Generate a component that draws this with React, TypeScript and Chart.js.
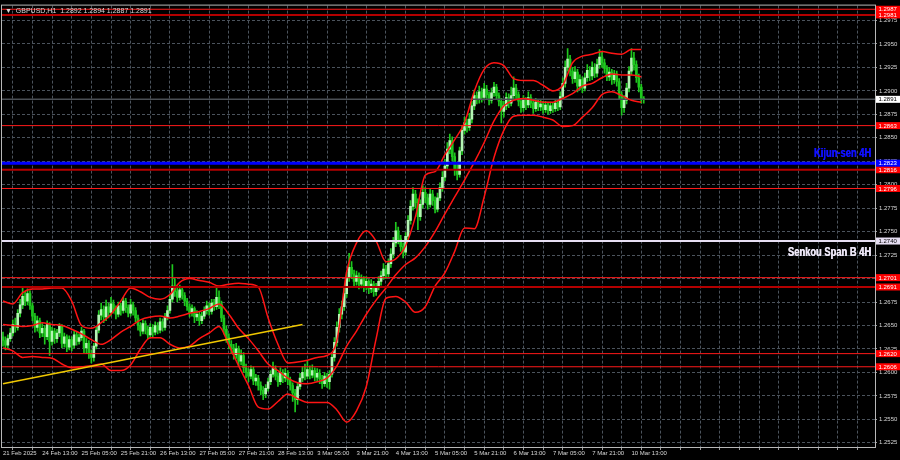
import React, { useEffect, useRef } from "react";
import { Chart, registerables } from "chart.js";

Chart.register(...registerables);

// ---------------- data ----------------
const symbolName = "GBPUSD,H1";

const timeLabels = [
  "21 Feb 2025", "24 Feb 13:00", "25 Feb 05:00", "25 Feb 21:00", "26 Feb 13:00",
  "27 Feb 05:00", "27 Feb 21:00", "28 Feb 13:00", "3 Mar 05:00", "3 Mar 21:00",
  "4 Mar 13:00", "5 Mar 05:00", "5 Mar 21:00", "6 Mar 13:00", "7 Mar 05:00",
  "7 Mar 21:00", "10 Mar 13:00",
];

const yTickValues = [
  1.2525, 1.255, 1.2575, 1.26, 1.2625, 1.265, 1.2675, 1.27, 1.2725, 1.275,
  1.2775, 1.28, 1.2825, 1.285, 1.2875, 1.29, 1.2925, 1.295, 1.2975,
];

const opens = [
  1.2638,1.2634,1.2629,1.2636,1.2642,1.2651,1.2648,1.2663,1.2672,1.2681,
  1.2676,1.2684,1.2671,1.2660,1.2648,1.2655,1.2642,1.2647,1.2638,1.2651,
  1.2633,1.2644,1.2636,1.2642,1.2649,1.2631,1.2638,1.2627,1.2635,1.2629,
  1.2640,1.2633,1.2637,1.2644,1.2626,1.2631,1.2620,1.2616,1.2628,1.2645,
  1.2661,1.2667,1.2659,1.2670,1.2664,1.2673,1.2668,1.2662,1.2671,1.2666,
  1.2676,1.2669,1.2663,1.2672,1.2666,1.2658,1.2650,1.2644,1.2652,1.2646,
  1.2640,1.2648,1.2643,1.2650,1.2645,1.2654,1.2648,1.2659,1.2666,1.2678,
  1.2692,1.2686,1.2680,1.2688,1.2682,1.2676,1.2670,1.2664,1.2668,1.2659,
  1.2662,1.2655,1.2660,1.2666,1.2671,1.2665,1.2674,1.2670,1.2680,1.2673,
  1.2658,1.2646,1.2637,1.2630,1.2626,1.2619,1.2625,1.2612,1.2618,1.2605,
  1.2600,1.2596,1.2603,1.2591,1.2594,1.2586,1.2581,1.2577,1.2583,1.2590,
  1.2598,1.2604,1.2596,1.2590,1.2600,1.2594,1.2599,1.2592,1.2586,1.2578,
  1.2571,1.2585,1.2594,1.2600,1.2596,1.2603,1.2597,1.2602,1.2595,1.2599,
  1.2593,1.2588,1.2596,1.2590,1.2598,1.2616,1.2632,1.2648,1.2662,1.2670,
  1.2684,1.2701,1.2712,1.2705,1.2697,1.2703,1.2694,1.2699,1.2692,1.2697,
  1.2689,1.2694,1.2686,1.2691,1.2697,1.2703,1.2710,1.2705,1.2716,1.2726,
  1.2738,1.2751,1.2742,1.2734,1.2728,1.2745,1.2762,1.2777,1.2790,1.2781,
  1.2766,1.2779,1.2792,1.2786,1.2779,1.2790,1.2783,1.2774,1.2786,1.2797,
  1.2808,1.2820,1.2838,1.2847,1.2830,1.2816,1.2811,1.2836,1.2858,1.2866,
  1.2861,1.2870,1.2884,1.2895,1.2891,1.2899,1.2893,1.2902,1.2896,1.2890,
  1.2898,1.2904,1.2895,1.2889,1.2878,1.2884,1.2893,1.2887,1.2895,1.2903,
  1.2896,1.2889,1.2882,1.2890,1.2885,1.2893,1.2887,1.2881,1.2888,1.2883,
  1.2886,1.2880,1.2885,1.2879,1.2884,1.2881,1.2887,1.2883,1.2894,1.2908,
  1.2925,1.2934,1.2921,1.2913,1.2920,1.2905,1.2912,1.2903,1.2914,1.2922,
  1.2916,1.2925,1.2919,1.2928,1.2936,1.2930,1.2924,1.2915,1.2920,1.2912,
  1.2918,1.2910,1.2896,1.2882,1.2890,1.2903,1.2921,1.2935,1.2928,1.2914,
  1.2904,1.2892,
];

const highs = [
  1.2643,1.2638,1.2640,1.2647,1.2656,1.2658,1.2667,1.2678,1.2690,1.2686,
  1.2689,1.2687,1.2674,1.2663,1.2660,1.2658,1.2652,1.2650,1.2655,1.2653,
  1.2648,1.2647,1.2646,1.2652,1.2651,1.2642,1.2640,1.2639,1.2638,1.2644,
  1.2643,1.2641,1.2648,1.2646,1.2636,1.2634,1.2624,1.2631,1.2649,1.2666,
  1.2674,1.2671,1.2677,1.2674,1.2680,1.2677,1.2671,1.2675,1.2674,1.2680,
  1.2679,1.2672,1.2678,1.2675,1.2669,1.2661,1.2653,1.2656,1.2655,1.2649,
  1.2652,1.2651,1.2654,1.2653,1.2658,1.2657,1.2663,1.2671,1.2683,1.2715,
  1.2700,1.2690,1.2693,1.2691,1.2685,1.2679,1.2673,1.2672,1.2670,1.2666,
  1.2665,1.2664,1.2670,1.2676,1.2674,1.2678,1.2678,1.2690,1.2687,1.2676,
  1.2661,1.2650,1.2641,1.2634,1.2630,1.2631,1.2628,1.2624,1.2621,1.2609,
  1.2604,1.2607,1.2606,1.2598,1.2597,1.2590,1.2585,1.2587,1.2594,1.2602,
  1.2611,1.2607,1.2599,1.2605,1.2603,1.2604,1.2602,1.2595,1.2589,1.2582,
  1.2589,1.2599,1.2606,1.2609,1.2612,1.2607,1.2608,1.2605,1.2604,1.2603,
  1.2597,1.2600,1.2599,1.2602,1.2620,1.2637,1.2654,1.2668,1.2676,1.2690,
  1.2707,1.2727,1.2718,1.2709,1.2708,1.2706,1.2704,1.2702,1.2702,1.2699,
  1.2699,1.2697,1.2695,1.2702,1.2708,1.2716,1.2714,1.2721,1.2732,1.2744,
  1.2760,1.2755,1.2746,1.2738,1.2749,1.2767,1.2783,1.2797,1.2794,1.2785,
  1.2784,1.2799,1.2797,1.2790,1.2795,1.2794,1.2787,1.2791,1.2802,1.2814,
  1.2827,1.2845,1.2854,1.2851,1.2834,1.2822,1.2840,1.2863,1.2872,1.2870,
  1.2876,1.2889,1.2901,1.2899,1.2905,1.2903,1.2908,1.2906,1.2899,1.2903,
  1.2909,1.2907,1.2898,1.2892,1.2889,1.2898,1.2897,1.2904,1.2915,1.2907,
  1.2899,1.2892,1.2895,1.2893,1.2899,1.2896,1.2890,1.2892,1.2891,1.2890,
  1.2889,1.2889,1.2888,1.2888,1.2887,1.2891,1.2890,1.2899,1.2914,1.2932,
  1.2945,1.2938,1.2925,1.2926,1.2923,1.2917,1.2915,1.2919,1.2928,1.2926,
  1.2931,1.2929,1.2934,1.2944,1.2941,1.2934,1.2927,1.2925,1.2923,1.2922,
  1.2921,1.2913,1.2899,1.2895,1.2908,1.2926,1.2945,1.2941,1.2932,1.2918,
  1.2907,1.2894,
];

const lows = [
  1.2628,1.2624,1.2626,1.2633,1.2639,1.2643,1.2645,1.2659,1.2668,1.2671,
  1.2672,1.2667,1.2655,1.2643,1.2644,1.2637,1.2638,1.2630,1.2635,1.2618,
  1.2629,1.2631,1.2632,1.2638,1.2626,1.2627,1.2622,1.2624,1.2623,1.2626,
  1.2629,1.2630,1.2634,1.2621,1.2620,1.2615,1.2610,1.2612,1.2625,1.2642,
  1.2656,1.2653,1.2655,1.2658,1.2660,1.2663,1.2657,1.2659,1.2661,1.2663,
  1.2664,1.2659,1.2660,1.2661,1.2654,1.2645,1.2639,1.2641,1.2641,1.2636,
  1.2637,1.2638,1.2640,1.2641,1.2642,1.2644,1.2645,1.2656,1.2663,1.2675,
  1.2681,1.2675,1.2677,1.2678,1.2671,1.2666,1.2659,1.2660,1.2653,1.2655,
  1.2650,1.2652,1.2657,1.2662,1.2661,1.2662,1.2666,1.2667,1.2668,1.2654,
  1.2641,1.2632,1.2625,1.2620,1.2614,1.2615,1.2606,1.2608,1.2600,1.2594,
  1.2590,1.2593,1.2587,1.2586,1.2581,1.2576,1.2571,1.2573,1.2580,1.2587,
  1.2595,1.2592,1.2585,1.2587,1.2589,1.2590,1.2587,1.2581,1.2569,1.2558,
  1.2566,1.2582,1.2590,1.2592,1.2593,1.2593,1.2594,1.2591,1.2590,1.2588,
  1.2583,1.2585,1.2584,1.2582,1.2595,1.2612,1.2628,1.2643,1.2657,1.2666,
  1.2680,1.2697,1.2700,1.2692,1.2693,1.2689,1.2690,1.2686,1.2688,1.2684,
  1.2685,1.2681,1.2682,1.2688,1.2693,1.2699,1.2700,1.2702,1.2712,1.2722,
  1.2734,1.2737,1.2729,1.2722,1.2725,1.2741,1.2758,1.2773,1.2775,1.2752,
  1.2762,1.2775,1.2781,1.2774,1.2776,1.2778,1.2770,1.2771,1.2783,1.2793,
  1.2804,1.2816,1.2833,1.2825,1.2810,1.2805,1.2808,1.2832,1.2854,1.2856,
  1.2858,1.2866,1.2880,1.2886,1.2887,1.2888,1.2890,1.2892,1.2885,1.2887,
  1.2894,1.2891,1.2884,1.2866,1.2872,1.2880,1.2882,1.2884,1.2891,1.2891,
  1.2884,1.2877,1.2878,1.2880,1.2882,1.2882,1.2876,1.2878,1.2879,1.2879,
  1.2876,1.2877,1.2875,1.2876,1.2877,1.2878,1.2879,1.2880,1.2891,1.2904,
  1.2921,1.2916,1.2908,1.2909,1.2899,1.2901,1.2898,1.2900,1.2910,1.2911,
  1.2912,1.2914,1.2915,1.2924,1.2925,1.2919,1.2911,1.2911,1.2907,1.2908,
  1.2905,1.2891,1.2874,1.2877,1.2886,1.2899,1.2917,1.2922,1.2909,1.2899,
  1.2887,1.2887,
];

const closes = [
  1.2634,1.2629,1.2636,1.2642,1.2651,1.2648,1.2663,1.2672,1.2681,1.2676,
  1.2684,1.2671,1.2660,1.2648,1.2655,1.2642,1.2647,1.2638,1.2651,1.2633,
  1.2644,1.2636,1.2642,1.2649,1.2631,1.2638,1.2627,1.2635,1.2629,1.2640,
  1.2633,1.2637,1.2644,1.2626,1.2631,1.2620,1.2616,1.2628,1.2645,1.2661,
  1.2667,1.2659,1.2670,1.2664,1.2673,1.2668,1.2662,1.2671,1.2666,1.2676,
  1.2669,1.2663,1.2672,1.2666,1.2658,1.2650,1.2644,1.2652,1.2646,1.2640,
  1.2648,1.2643,1.2650,1.2645,1.2654,1.2648,1.2659,1.2666,1.2678,1.2692,
  1.2686,1.2680,1.2688,1.2682,1.2676,1.2670,1.2664,1.2668,1.2659,1.2662,
  1.2655,1.2660,1.2666,1.2671,1.2665,1.2674,1.2670,1.2680,1.2673,1.2658,
  1.2646,1.2637,1.2630,1.2626,1.2619,1.2625,1.2612,1.2618,1.2605,1.2600,
  1.2596,1.2603,1.2591,1.2594,1.2586,1.2581,1.2577,1.2583,1.2590,1.2598,
  1.2604,1.2596,1.2590,1.2600,1.2594,1.2599,1.2592,1.2586,1.2578,1.2571,
  1.2585,1.2594,1.2600,1.2596,1.2603,1.2597,1.2602,1.2595,1.2599,1.2593,
  1.2588,1.2596,1.2590,1.2598,1.2616,1.2632,1.2648,1.2662,1.2670,1.2684,
  1.2701,1.2712,1.2705,1.2697,1.2703,1.2694,1.2699,1.2692,1.2697,1.2689,
  1.2694,1.2686,1.2691,1.2697,1.2703,1.2710,1.2705,1.2716,1.2726,1.2738,
  1.2751,1.2742,1.2734,1.2728,1.2745,1.2762,1.2777,1.2790,1.2781,1.2766,
  1.2779,1.2792,1.2786,1.2779,1.2790,1.2783,1.2774,1.2786,1.2797,1.2808,
  1.2820,1.2838,1.2847,1.2830,1.2816,1.2811,1.2836,1.2858,1.2866,1.2861,
  1.2870,1.2884,1.2895,1.2891,1.2899,1.2893,1.2902,1.2896,1.2890,1.2898,
  1.2904,1.2895,1.2889,1.2878,1.2884,1.2893,1.2887,1.2895,1.2903,1.2896,
  1.2889,1.2882,1.2890,1.2885,1.2893,1.2887,1.2881,1.2888,1.2883,1.2886,
  1.2880,1.2885,1.2879,1.2884,1.2881,1.2887,1.2883,1.2894,1.2908,1.2925,
  1.2934,1.2921,1.2913,1.2920,1.2905,1.2912,1.2903,1.2914,1.2922,1.2916,
  1.2925,1.2919,1.2928,1.2936,1.2930,1.2924,1.2915,1.2920,1.2912,1.2918,
  1.2910,1.2896,1.2882,1.2890,1.2903,1.2921,1.2935,1.2928,1.2914,1.2904,
  1.2892,1.2891,
];

// Bollinger band readings (bar index -> price)
const bandBars = [
  0, 4, 8, 12, 16, 20, 24, 28, 32, 36,
  40, 44, 48, 52, 56, 60, 64, 68, 72, 76,
  80, 84, 88, 92, 96, 100, 104, 108, 112, 116,
  120, 124, 128, 132, 136, 140, 144, 148, 152, 156,
  160, 164, 168, 172, 176, 180, 184, 188, 192, 196,
  200, 204, 208, 212, 216, 220, 224, 228, 232, 236,
  240, 244, 248, 252, 256, 260,
];
const bbUpper = [
  1.2676,1.2673,1.2685,1.2689,1.2689,1.2690,1.2690,1.2676,1.2650,1.2647,
  1.2653,1.2662,1.2676,1.2690,1.2686,1.2680,1.2678,1.2683,1.2696,1.2700,
  1.2698,1.2696,1.2692,1.2694,1.2695,1.2694,1.2691,1.2658,1.2630,1.2610,
  1.2611,1.2613,1.2616,1.2618,1.2634,1.2707,1.2738,1.2751,1.2740,1.2718,
  1.2721,1.2735,1.2766,1.2810,1.2814,1.2832,1.2848,1.2866,1.2900,1.2923,
  1.2930,1.2927,1.2913,1.2911,1.2911,1.2906,1.2900,1.2906,1.2930,1.2937,
  1.2939,1.2942,1.2940,1.2939,1.2944,1.2944,
];
const bbMiddle = [
  1.2651,1.2650,1.2649,1.2650,1.2653,1.2651,1.2650,1.2646,1.2641,1.2635,
  1.2630,1.2635,1.2643,1.2649,1.2656,1.2659,1.2660,1.2658,1.2660,1.2663,
  1.2665,1.2668,1.2673,1.2662,1.2647,1.2636,1.2623,1.2609,1.2602,1.2594,
  1.2589,1.2588,1.2590,1.2594,1.2607,1.2628,1.2644,1.2662,1.2677,1.2690,
  1.2704,1.2715,1.2722,1.2734,1.2750,1.2769,1.2787,1.2805,1.2824,1.2845,
  1.2868,1.2884,1.2890,1.2892,1.2890,1.2888,1.2888,1.2892,1.2897,1.2905,
  1.2908,1.2914,1.2918,1.2917,1.2917,1.2915,
];
const bbLower = [
  1.2626,1.2623,1.2616,1.2617,1.2616,1.2615,1.2609,1.2605,1.2606,1.2607,
  1.2609,1.2602,1.2602,1.2608,1.2625,1.2637,1.2637,1.2630,1.2626,1.2628,
  1.2636,1.2642,1.2649,1.2629,1.2607,1.2586,1.2563,1.2561,1.2569,1.2577,
  1.2572,1.2568,1.2568,1.2568,1.2560,1.2547,1.2559,1.2585,1.2636,1.2679,
  1.2681,1.2675,1.2664,1.2670,1.2692,1.2706,1.2729,1.2754,1.2753,1.2787,
  1.2829,1.2858,1.2873,1.2874,1.2874,1.2872,1.2869,1.2862,1.2863,1.2872,
  1.2882,1.2896,1.2899,1.2895,1.2890,1.2888,
];

const trendBars = [0, 122];
const trendPrices = [1.2588, 1.2651];

const brightLevels = [1.2987, 1.2863, 1.2796, 1.2701, 1.262, 1.2606];
const darkLevels = [1.2981, 1.2816, 1.2691];
const kijunLevel = 1.2823;
const senkouLevel = 1.274;
const lastPrice = 1.2891;

const kijunText = "Kijun-sen 4H";
const senkouText = "Senkou Span B 4H";

// axis ranges
const X_MIN = -0.4;
const X_MAX = 355.2;
const Y_MIN = 1.25205;
const Y_MAX = 1.29909;

const FONT = '"Liberation Sans", "DejaVu Sans", Arial, sans-serif';

const overlayPlugin = {
  id: "mtOverlay",
  afterDraw(chart: any) {
    const { ctx, chartArea, scales } = chart;
    const ys = scales.y;
    ctx.save();
    // frame
    ctx.strokeStyle = "#b8b8b8";
    ctx.lineWidth = 1;
    ctx.strokeRect(chartArea.left - 0.5, chartArea.top - 0.5, chartArea.right - chartArea.left + 1, chartArea.bottom - chartArea.top + 1);

    // title
    const n = closes.length - 1;
    ctx.font = `7px ${FONT}`;
    ctx.fillStyle = "#d8d8d8";
    ctx.textBaseline = "middle";
    ctx.textAlign = "left";
    ctx.fillText(
      `▼  ${symbolName}  ${opens[n].toFixed(4)} ${highs[n].toFixed(4)} ${lows[n].toFixed(4)} ${closes[n].toFixed(4)}`,
      chartArea.left + 3,
      chartArea.top + 5
    );

    // annotations (condensed bold text)
    const condensed = (text: string, color: string, xr: number, yb: number) => {
      ctx.save();
      ctx.font = `bold 13px ${FONT}`;
      ctx.textAlign = "right";
      ctx.textBaseline = "alphabetic";
      ctx.translate(xr, yb);
      ctx.scale(0.72, 1);
      ctx.fillStyle = color;
      ctx.fillText(text, 0, 0);
      ctx.fillText(text, 0.6, 0);
      ctx.restore();
    };
    condensed(kijunText, "#1010ff", chartArea.right - 4, ys.getPixelForValue(kijunLevel) - 6);
    condensed(senkouText, "#ece6f6", chartArea.right - 4, ys.getPixelForValue(senkouLevel) + 15);

    // price boxes
    const boxX = chartArea.right + 1;
    const boxW = 900 - boxX;
    const box = (v: number, bg: string, fg: string) => {
      const py = ys.getPixelForValue(v);
      ctx.fillStyle = bg;
      ctx.fillRect(boxX, py - 3.5, boxW, 7);
      ctx.fillStyle = fg;
      ctx.font = `6px ${FONT}`;
      ctx.textAlign = "left";
      ctx.textBaseline = "middle";
      ctx.fillText(v.toFixed(4), boxX + 2.5, py + 0.5);
    };
    [...brightLevels, ...darkLevels].forEach((v) => box(v, "#ff0000", "#ffffff"));
    box(kijunLevel, "#0000ff", "#ffffff");
    box(senkouLevel, "#e6def2", "#000000");
    box(lastPrice, "#ffffff", "#000000");
    ctx.restore();
  },
};

export default function App() {
  const canvasRef = useRef<HTMLCanvasElement | null>(null);

  useEffect(() => {
    if (!canvasRef.current) return;
    const bullBody = "#b4f5b4";
    const bearBody = "#1ec81e";
    const wickColor = "#1ec81e";

    const wickData = closes.map((_, i) => ({ x: i, y: [lows[i], highs[i]] }));
    const bodyData = closes.map((c, i) => ({ x: i, y: [opens[i], c] }));
    const bandData = (arr: number[]) => arr.map((v, k) => ({ x: bandBars[k], y: v }));
    const level = (v: number, color: string, width: number, order: number) => ({
      type: "line",
      data: [{ x: X_MIN, y: v }, { x: X_MAX, y: v }],
      borderColor: color,
      borderWidth: width,
      pointRadius: 0,
      tension: 0,
      order,
    });

    const datasets: any[] = [
      {
        type: "bar",
        data: wickData,
        backgroundColor: wickColor,
        barThickness: 1,
        grouped: false,
        order: 20,
      },
      {
        type: "bar",
        data: bodyData,
        backgroundColor: (c: any) => (closes[c.dataIndex] >= opens[c.dataIndex] ? bullBody : bearBody),
        barThickness: 2,
        minBarLength: 1,
        grouped: false,
        order: 19,
      },
      ...[bbUpper, bbMiddle, bbLower].map((arr) => ({
        type: "line",
        data: bandData(arr),
        borderColor: "#ff1414",
        borderWidth: 1.5,
        pointRadius: 0,
        tension: 0.4,
        cubicInterpolationMode: "monotone",
        order: 10,
      })),
      level(lastPrice, "#4a4f55", 1.5, 12),
      ...brightLevels.map((v) => level(v, "#ff1a1a", 1, 6)),
      ...darkLevels.map((v) => level(v, "#b40000", 2, 7)),
      level(senkouLevel, "#e6def2", 2, 5),
      level(kijunLevel, "#0000ff", 3, 4),
      {
        type: "line",
        data: trendBars.map((b, k) => ({ x: b, y: trendPrices[k] })),
        borderColor: "#f0c800",
        borderWidth: 1.5,
        pointRadius: 0,
        order: 1,
      },
    ];

    const chart = new Chart(canvasRef.current, {
      type: "bar",
      data: { datasets },
      options: {
        animation: false,
        responsive: false,
        devicePixelRatio: 1,
        events: [],
        layout: { padding: { left: 2, top: 2, right: 0, bottom: 0 } },
        plugins: { legend: { display: false }, tooltip: { enabled: false } },
        scales: {
          x: {
            type: "linear",
            min: X_MIN,
            max: X_MAX,
            offset: false,
            afterBuildTicks: (scale: any) => {
              const t: any[] = [];
              for (let b = 0; b <= X_MAX; b += 8) t.push({ value: b });
              scale.ticks = t;
            },
            afterFit: (scale: any) => {
              scale.height = 13;
            },
            grid: { color: "#4b535c", lineWidth: 1, tickLength: 3, tickColor: "#9a9a9a" },
            border: { display: true, color: "#b8b8b8", dash: [3, 2] },
            ticks: {
              autoSkip: false,
              maxRotation: 0,
              align: "start",
              padding: 0,
              color: "#d8d8d8",
              font: { family: FONT, size: 6 },
              callback: (v: any) => {
                const n = Number(v);
                return n % 16 === 0 && timeLabels[n / 16] ? timeLabels[n / 16] : "";
              },
            },
          },
          y: {
            type: "linear",
            position: "right",
            min: Y_MIN,
            max: Y_MAX,
            afterBuildTicks: (scale: any) => {
              scale.ticks = yTickValues.map((v) => ({ value: v }));
            },
            afterFit: (scale: any) => {
              scale.width = 25;
            },
            grid: { color: "#4b535c", lineWidth: 1, tickLength: 2, tickColor: "#9a9a9a" },
            border: { display: true, color: "#b8b8b8", dash: [3, 2] },
            ticks: {
              autoSkip: false,
              padding: 2,
              color: "#d8d8d8",
              font: { family: FONT, size: 6 },
              callback: (v: any) => Number(v).toFixed(4),
            },
          },
        },
      } as any,
      plugins: [overlayPlugin],
    } as any);

    return () => chart.destroy();
  }, []);

  return (
    <div style={{ position: "fixed", left: 0, top: 0, width: 900, height: 460, background: "#000" }}>
      <canvas ref={canvasRef} width={900} height={460} style={{ display: "block", width: 900, height: 460 }} />
    </div>
  );
}
